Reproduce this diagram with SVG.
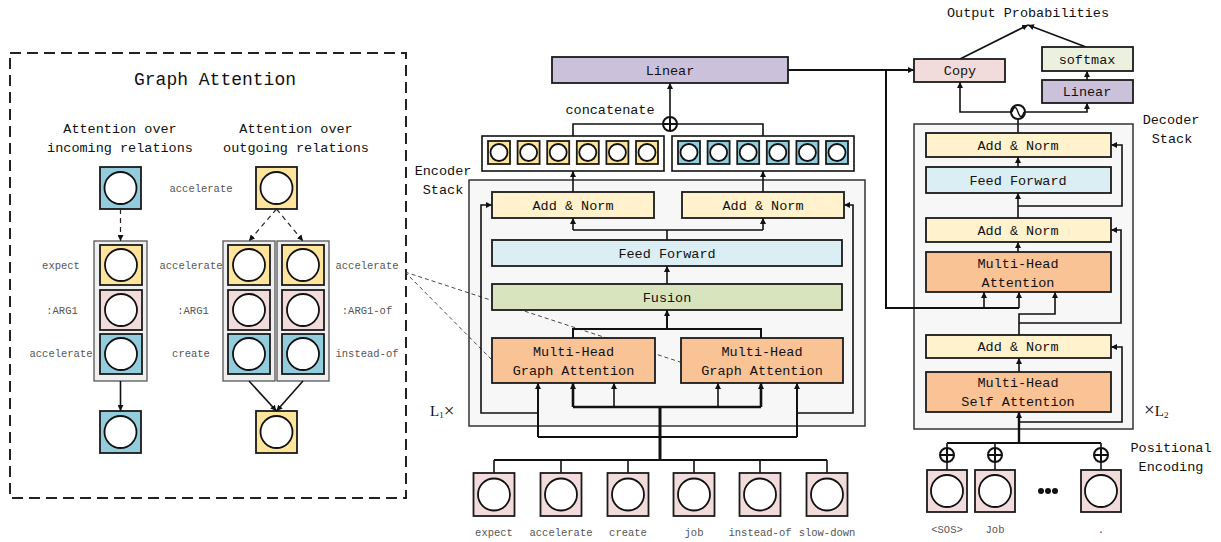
<svg xmlns="http://www.w3.org/2000/svg" width="1221" height="542" viewBox="0 0 1221 542">
<defs>
<style>
.t{font-family:"Liberation Mono",monospace;font-size:13.5px;fill:#111;text-anchor:middle}
.s{font-size:10.5px;fill:#555}
.ti{font-size:18px}
.b{stroke:#1a1a1a;stroke-width:1.8}
.c{fill:#fff;stroke:#111;stroke-width:1.8}
.ln{fill:none;stroke:#111;stroke-width:1.6}
.tk{stroke-width:2.6}
.dl{fill:none;stroke:#222;stroke-width:1.2;stroke-dasharray:5,4}
.cl{fill:none;stroke:#333;stroke-width:0.9;stroke-dasharray:4,3}
.yel{fill:#ffe49c}.blu{fill:#93cddd}.pnk{fill:#f2dcdb}.an{fill:#fff2cc}.ff{fill:#daeef3}.fu{fill:#d7e4bd}.mh{fill:#f9c396}.li{fill:#ccc1da}.sm{fill:#ebf1de}
.grp{fill:#efefef;stroke:#555;stroke-width:1.3}
.stk{fill:#f7f7f7;stroke:#333;stroke-width:1.5}
.lx{font-family:"Liberation Serif",serif;font-size:15px;fill:#111}
</style>
<marker id="a" viewBox="0 0 10 10" refX="10" refY="5" markerWidth="6" markerHeight="6" markerUnits="userSpaceOnUse" orient="auto"><path d="M0,0L10,5L0,10z" fill="#111"/></marker>
</defs>
<rect width="1221" height="542" fill="#fff"/>

<!-- Left panel -->
<g id="graph-attention-panel">
<rect x="10" y="53" width="396" height="445" fill="#fff" stroke="#222" stroke-width="2" stroke-dasharray="11,6"/>
<text class="t ti" x="215" y="85">Graph Attention</text>
<text class="t" x="120" y="133">Attention over</text>
<text class="t" x="120" y="152">incoming relations</text>
<text class="t" x="296" y="133">Attention over</text>
<text class="t" x="296" y="152">outgoing relations</text>
</g>
<g id="in-top"><rect class="b blu" x="100" y="167" width="41" height="42"/><circle class="c" cx="120.5" cy="188" r="16"/></g>
<g id="out-top"><rect class="b yel" x="256" y="167" width="41" height="42"/><circle class="c" cx="276.5" cy="188" r="16"/><text class="t s" x="201" y="192">accelerate</text></g>
<g id="in-stack">
<rect class="grp" x="94" y="241" width="53" height="140"/>
<rect class="b yel" x="100" y="245" width="42" height="40"/><circle class="c" cx="121" cy="265" r="16"/>
<rect class="b pnk" x="100" y="290" width="42" height="40"/><circle class="c" cx="121" cy="310" r="16"/>
<rect class="b blu" x="100" y="334" width="42" height="40"/><circle class="c" cx="121" cy="354" r="16"/>
<text class="t s" x="61" y="269">expect</text><text class="t s" x="62" y="314">:ARG1</text><text class="t s" x="61" y="357">accelerate</text>
</g>
<g id="out-stack-a">
<rect class="grp" x="223" y="241" width="52" height="140"/>
<rect class="b yel" x="228" y="245" width="42" height="40"/><circle class="c" cx="249" cy="265" r="16"/>
<rect class="b pnk" x="228" y="290" width="42" height="40"/><circle class="c" cx="249" cy="310" r="16"/>
<rect class="b blu" x="228" y="334" width="42" height="40"/><circle class="c" cx="249" cy="354" r="16"/>
<text class="t s" x="191" y="269">accelerate</text><text class="t s" x="193" y="314">:ARG1</text><text class="t s" x="191" y="357">create</text>
</g>
<g id="out-stack-b">
<rect class="grp" x="277" y="241" width="52" height="140"/>
<rect class="b yel" x="282" y="245" width="42" height="40"/><circle class="c" cx="303" cy="265" r="16"/>
<rect class="b pnk" x="282" y="290" width="42" height="40"/><circle class="c" cx="303" cy="310" r="16"/>
<rect class="b blu" x="282" y="334" width="42" height="40"/><circle class="c" cx="303" cy="354" r="16"/>
<text class="t s" x="367" y="269">accelerate</text><text class="t s" x="367" y="314">:ARG1-of</text><text class="t s" x="367" y="357">instead-of</text>
</g>
<g id="in-bottom"><rect class="b blu" x="100" y="411" width="41" height="42"/><circle class="c" cx="120.5" cy="432" r="16"/></g>
<g id="out-bottom"><rect class="b yel" x="256" y="411" width="41" height="42"/><circle class="c" cx="276.5" cy="432" r="16"/></g>

<!-- stack backgrounds -->
<g id="encoder-stack"><rect class="stk" x="469" y="180" width="396" height="246"/>
<text class="t" x="443" y="175">Encoder</text><text class="t" x="443" y="194">Stack</text>
<text class="lx" x="430" y="416">L<tspan font-size="9" dy="2">1</tspan><tspan dy="-1" font-size="19">×</tspan></text></g>
<g id="decoder-stack"><rect class="stk" x="914" y="124" width="219" height="305"/>
<text class="t" x="1171" y="124">Decoder</text><text class="t" x="1172" y="143">Stack</text>
<text class="lx" x="1144" y="416"><tspan font-size="19">×</tspan>L<tspan font-size="9" dy="2">2</tspan></text>
<text class="t" x="1171" y="452">Positional</text><text class="t" x="1171" y="471">Encoding</text></g>

<!-- connectors -->
<g id="connectors">
<path class="dl" d="M120.5,209V241" marker-end="url(#a)"/>
<path class="dl" d="M276.5,209L249,241" marker-end="url(#a)"/>
<path class="dl" d="M276.5,209L303,241" marker-end="url(#a)"/>
<path class="ln" d="M120.5,381V411" marker-end="url(#a)"/>
<path class="ln" d="M249,381L276.5,411" marker-end="url(#a)"/>
<path class="ln" d="M303,381L276.5,411" marker-end="url(#a)"/>
<path class="cl" d="M405,272L492,360M405,272L680,362"/>
<!-- encoder -->
<path class="ln" d="M670,117V83" marker-end="url(#a)"/>
<path class="ln" d="M573,136V124H763V136"/>
<path class="ln" d="M573,192V171" marker-end="url(#a)"/>
<path class="ln" d="M763,192V171" marker-end="url(#a)"/>
<path class="ln" d="M667,240V230M573,230H763"/>
<path class="ln" d="M573,230V218" marker-end="url(#a)"/>
<path class="ln" d="M763,230V218" marker-end="url(#a)"/>
<path class="ln" d="M667,284V266" marker-end="url(#a)"/>
<path class="ln" d="M573,338V329H761V338" style="stroke-width:2"/>
<path class="ln" d="M667,329V310" marker-end="url(#a)" style="stroke-width:2"/>
<path class="ln" d="M538,413H481V205H492" marker-end="url(#a)"/>
<path class="ln" d="M797,413H853V205H844" marker-end="url(#a)"/>
<path class="ln" d="M538,437V383" marker-end="url(#a)" style="stroke-width:2"/>
<path class="ln" d="M797,437V383" marker-end="url(#a)" style="stroke-width:2"/>
<path class="ln" d="M538,437H797" style="stroke-width:2"/>
<path class="ln tk" d="M573,407H761"/>
<path class="ln tk" d="M573,407V383" marker-end="url(#a)"/>
<path class="ln" d="M614,407V383" marker-end="url(#a)"/>
<path class="ln" d="M718,407V383" marker-end="url(#a)"/>
<path class="ln tk" d="M761,407V383" marker-end="url(#a)"/>
<path class="ln" d="M660,460V407" style="stroke-width:3"/>
<path class="ln" d="M494,460H827" style="stroke-width:2.2"/>
<path class="ln" d="M494,460V473M561,460V473M628,460V473M694,460V473M760,460V473M827,460V473"/>
<!-- encoder to decoder -->
<path class="ln" d="M788,70H914" marker-end="url(#a)" style="stroke-width:2"/>
<path class="ln" d="M886,70V308H1019" style="stroke-width:2"/>
<path class="ln" d="M984,308V292" marker-end="url(#a)"/>
<path class="ln" d="M1019,308V292" marker-end="url(#a)"/>
<!-- decoder -->
<path class="ln" d="M960,59L1028,25" marker-end="url(#a)"/>
<path class="ln" d="M1086,47L1028,25" marker-end="url(#a)"/>
<path class="ln" d="M1087,80V71" marker-end="url(#a)"/>
<path class="ln" d="M1011,112H960V82" marker-end="url(#a)"/>
<path class="ln" d="M1025,112H1087V103" marker-end="url(#a)"/>
<path class="ln" d="M1018,119V133"/>
<path class="ln" d="M1018,167V157" marker-end="url(#a)"/>
<path class="ln" d="M1018,218V193" marker-end="url(#a)"/>
<path class="ln" d="M1018,206H1122V145H1111" marker-end="url(#a)"/>
<path class="ln" d="M1018,252V242" marker-end="url(#a)"/>
<path class="ln" d="M1019,335V314H1055V292" marker-end="url(#a)"/>
<path class="ln" d="M1019,323H1121V230H1111" marker-end="url(#a)"/>
<path class="ln" d="M1019,372V358" marker-end="url(#a)"/>
<path class="ln" d="M1019,422H1122V347H1111" marker-end="url(#a)"/>
<path class="ln" d="M1019,443V412" marker-end="url(#a)" style="stroke-width:2.4"/>
<path class="ln" d="M947,443H1101" style="stroke-width:2.2"/>
<path class="ln" d="M947,443V470M995,443V470M1101,443V470"/>
</g>

<!-- encoder nodes -->
<g id="enc-linear"><rect class="b li" x="552" y="57" width="236" height="26"/><text class="t" x="670" y="74.5">Linear</text></g>
<g id="concat"><text class="t" x="610" y="114">concatenate</text><circle cx="670" cy="124" r="7" fill="#fff" stroke="#111" stroke-width="2"/><path class="ln" d="M663,124H677M670,117V131" style="stroke-width:2"/></g>
<g id="vec-left"><rect x="482" y="136" width="182" height="35" fill="#fff" stroke="#111" stroke-width="1.6"/>
<rect class="b yel" x="488" y="141" width="22" height="23"/><circle class="c" cx="499" cy="152.5" r="8.5"/>
<rect class="b yel" x="517.6" y="141" width="22" height="23"/><circle class="c" cx="528.6" cy="152.5" r="8.5"/>
<rect class="b yel" x="547.2" y="141" width="22" height="23"/><circle class="c" cx="558.2" cy="152.5" r="8.5"/>
<rect class="b yel" x="576.8" y="141" width="22" height="23"/><circle class="c" cx="587.8" cy="152.5" r="8.5"/>
<rect class="b yel" x="606.4" y="141" width="22" height="23"/><circle class="c" cx="617.4" cy="152.5" r="8.5"/>
<rect class="b yel" x="636" y="141" width="22" height="23"/><circle class="c" cx="647" cy="152.5" r="8.5"/></g>
<g id="vec-right"><rect x="672" y="136" width="182" height="35" fill="#fff" stroke="#111" stroke-width="1.6"/>
<rect class="b blu" x="678" y="141" width="22" height="23"/><circle class="c" cx="689" cy="152.5" r="8.5"/>
<rect class="b blu" x="707.6" y="141" width="22" height="23"/><circle class="c" cx="718.6" cy="152.5" r="8.5"/>
<rect class="b blu" x="737.2" y="141" width="22" height="23"/><circle class="c" cx="748.2" cy="152.5" r="8.5"/>
<rect class="b blu" x="766.8" y="141" width="22" height="23"/><circle class="c" cx="777.8" cy="152.5" r="8.5"/>
<rect class="b blu" x="796.4" y="141" width="22" height="23"/><circle class="c" cx="807.4" cy="152.5" r="8.5"/>
<rect class="b blu" x="826" y="141" width="22" height="23"/><circle class="c" cx="837" cy="152.5" r="8.5"/></g>
<g id="enc-an-left"><rect class="b an" x="492" y="192" width="162" height="26"/><text class="t" x="573" y="209.5">Add &amp; Norm</text></g>
<g id="enc-an-right"><rect class="b an" x="682" y="192" width="162" height="26"/><text class="t" x="763" y="209.5">Add &amp; Norm</text></g>
<g id="enc-ff"><rect class="b ff" x="492" y="240" width="350" height="26"/><text class="t" x="667" y="257.5">Feed Forward</text></g>
<g id="enc-fusion"><rect class="b fu" x="492" y="284" width="350" height="26"/><text class="t" x="667" y="301.5">Fusion</text></g>
<g id="mhga-left"><rect class="b mh" x="492" y="338" width="163" height="45"/><text class="t" x="573.5" y="356">Multi-Head</text><text class="t" x="573.5" y="375">Graph Attention</text></g>
<g id="mhga-right"><rect class="b mh" x="681" y="338" width="162" height="45"/><text class="t" x="762" y="356">Multi-Head</text><text class="t" x="762" y="375">Graph Attention</text></g>

<!-- encoder tokens -->
<g id="tok-expect"><rect class="b pnk" x="473.5" y="473" width="41" height="43"/><circle class="c" cx="494" cy="494.5" r="16"/><text class="t s" x="494" y="536">expect</text></g>
<g id="tok-accelerate"><rect class="b pnk" x="540.5" y="473" width="41" height="43"/><circle class="c" cx="561" cy="494.5" r="16"/><text class="t s" x="561" y="536">accelerate</text></g>
<g id="tok-create"><rect class="b pnk" x="607.5" y="473" width="41" height="43"/><circle class="c" cx="628" cy="494.5" r="16"/><text class="t s" x="628" y="536">create</text></g>
<g id="tok-job"><rect class="b pnk" x="673.5" y="473" width="41" height="43"/><circle class="c" cx="694" cy="494.5" r="16"/><text class="t s" x="694" y="536">job</text></g>
<g id="tok-instead-of"><rect class="b pnk" x="739.5" y="473" width="41" height="43"/><circle class="c" cx="760" cy="494.5" r="16"/><text class="t s" x="760" y="536">instead-of</text></g>
<g id="tok-slow-down"><rect class="b pnk" x="806.5" y="473" width="41" height="43"/><circle class="c" cx="827" cy="494.5" r="16"/><text class="t s" x="827" y="536">slow-down</text></g>

<!-- decoder nodes -->
<g id="out-prob"><text class="t" x="1028" y="17">Output Probabilities</text></g>
<g id="copy"><rect class="b pnk" x="914" y="59" width="91" height="23"/><text class="t" x="960" y="75">Copy</text></g>
<g id="softmax"><rect class="b sm" x="1042" y="47" width="91" height="24"/><text class="t" x="1087" y="63.5">softmax</text></g>
<g id="dec-linear"><rect class="b li" x="1042" y="80" width="91" height="23"/><text class="t" x="1087" y="96">Linear</text></g>
<g id="switch"><circle cx="1018" cy="112" r="7" fill="#fff" stroke="#111" stroke-width="2"/><path d="M1012,112C1014,106 1016,106 1018,112C1020,118 1022,118 1024,112" fill="none" stroke="#111" stroke-width="1.4"/></g>
<g id="dec-an3"><rect class="b an" x="926" y="133" width="185" height="24"/><text class="t" x="1018" y="149.5">Add &amp; Norm</text></g>
<g id="dec-ff"><rect class="b ff" x="926" y="167" width="185" height="26"/><text class="t" x="1018" y="184.5">Feed Forward</text></g>
<g id="dec-an2"><rect class="b an" x="926" y="218" width="185" height="24"/><text class="t" x="1018" y="234.5">Add &amp; Norm</text></g>
<g id="dec-mha"><rect class="b mh" x="926" y="252" width="185" height="40"/><text class="t" x="1018" y="267.5">Multi-Head</text><text class="t" x="1018" y="286.5">Attention</text></g>
<g id="dec-an1"><rect class="b an" x="926" y="335" width="185" height="23"/><text class="t" x="1018" y="351">Add &amp; Norm</text></g>
<g id="dec-mhsa"><rect class="b mh" x="926" y="372" width="185" height="40"/><text class="t" x="1018" y="387">Multi-Head</text><text class="t" x="1018" y="406">Self Attention</text></g>

<!-- decoder tokens -->
<g id="pe-plus">
<circle cx="947" cy="455" r="7" fill="#fff" stroke="#111" stroke-width="2"/><path class="ln" d="M940,455H954M947,448V462" style="stroke-width:2"/>
<circle cx="995" cy="455" r="7" fill="#fff" stroke="#111" stroke-width="2"/><path class="ln" d="M988,455H1002M995,448V462" style="stroke-width:2"/>
<circle cx="1101" cy="455" r="7" fill="#fff" stroke="#111" stroke-width="2"/><path class="ln" d="M1094,455H1108M1101,448V462" style="stroke-width:2"/>
</g>
<g id="tok-sos"><rect class="b pnk" x="927" y="470" width="40" height="42"/><circle class="c" cx="947" cy="491" r="16"/><text class="t s" x="947" y="533">&lt;SOS&gt;</text></g>
<g id="tok-Job"><rect class="b pnk" x="975" y="470" width="40" height="42"/><circle class="c" cx="995" cy="491" r="16"/><text class="t s" x="995" y="533">Job</text></g>
<g id="ellipsis"><circle cx="1041" cy="491" r="3" fill="#111"/><circle cx="1048" cy="491" r="3" fill="#111"/><circle cx="1055" cy="491" r="3" fill="#111"/></g>
<g id="tok-dot"><rect class="b pnk" x="1081" y="470" width="40" height="42"/><circle class="c" cx="1101" cy="491" r="16"/><text class="t s" x="1101" y="533">.</text></g>
</svg>
